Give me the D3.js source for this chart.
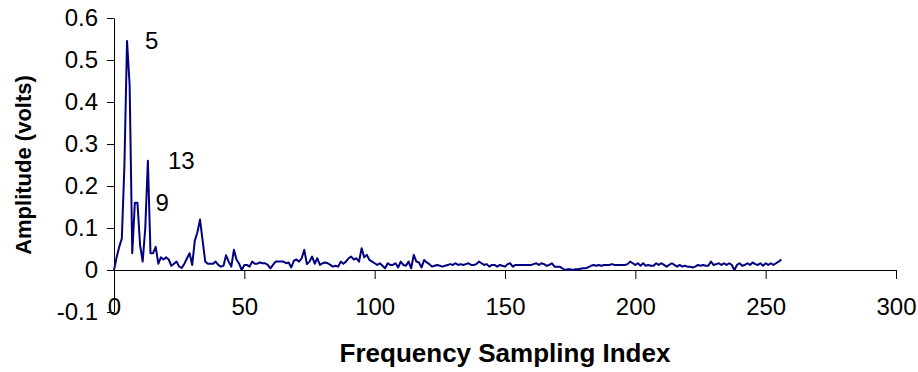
<!DOCTYPE html>
<html>
<head>
<meta charset="utf-8">
<script src="https://cdn.jsdelivr.net/npm/d3@7"></script>
<style>
  body { margin: 0; background: #fff; }
  text { font-family: "Liberation Sans", Arial, sans-serif; fill: #000; }
</style>
</head>
<body>
<div id="chart"></div>
<script>
// amplitude (volts) per frequency sampling index 0..256
const amplitude = [
  0, 0.03, 0.055, 0.075, 0.25, 0.545, 0.44, 0.04, 0.16, 0.16,
  0.06, 0.02, 0.1, 0.26, 0.04, 0.04, 0.055, 0.015, 0.03, 0.025,
  0.03, 0.025, 0.01, 0.015, 0.02, 0.008, 0.005, 0.015, 0.028, 0.04,
  0.012, 0.07, 0.09, 0.12, 0.07, 0.02, 0.015, 0.015, 0.015, 0.02,
  0.012, 0.008, 0.01, 0.035, 0.02, 0.008, 0.048, 0.025, 0.015, 0.0,
  0.012, 0.012, 0.008, 0.02, 0.015, 0.015, 0.018, 0.016, 0.016, 0.012,
  0.004, 0.012, 0.02, 0.02, 0.02, 0.02, 0.016, 0.018, 0.006, 0.022,
  0.025, 0.02, 0.028, 0.048, 0.014, 0.02, 0.032, 0.015, 0.028, 0.012,
  0.016, 0.018, 0.016, 0.012, 0.008, 0.01, 0.008, 0.02, 0.015, 0.02,
  0.028, 0.032, 0.025, 0.028, 0.02, 0.052, 0.03, 0.036, 0.024, 0.02,
  0.016, 0.012, 0.016, 0.01, 0.004, 0.016, 0.012, 0.012, 0.016, 0.006,
  0.02, 0.012, 0.01, 0.02, 0.004, 0.036, 0.02, 0.018, 0.006, 0.024,
  0.018, 0.014, 0.008, 0.01, 0.012, 0.01, 0.008, 0.01, 0.012, 0.014,
  0.012, 0.016, 0.012, 0.014, 0.012, 0.014, 0.016, 0.012, 0.012, 0.014,
  0.02, 0.016, 0.012, 0.014, 0.008, 0.012, 0.012, 0.008, 0.012, 0.01,
  0.008, 0.014, 0.016, 0.008, 0.012, 0.012, 0.012, 0.012, 0.012, 0.012,
  0.012, 0.014, 0.016, 0.012, 0.016, 0.014, 0.01, 0.012, 0.016, 0.008,
  0.008, 0.008, 0.004, 0.0, 0.002, 0.002, 0.0, 0.002, 0.002, 0.003,
  0.004, 0.004, 0.007, 0.01, 0.012, 0.01, 0.012, 0.01, 0.012, 0.012,
  0.012, 0.014, 0.012, 0.012, 0.012, 0.012, 0.012, 0.014, 0.02, 0.016,
  0.012, 0.016, 0.01, 0.016, 0.01, 0.012, 0.01, 0.01, 0.016, 0.012,
  0.016, 0.012, 0.008, 0.012, 0.016, 0.012, 0.008, 0.012, 0.008, 0.01,
  0.008, 0.008, 0.006, 0.008, 0.012, 0.01, 0.012, 0.01, 0.01, 0.02,
  0.012, 0.014, 0.016, 0.012, 0.016, 0.012, 0.016, 0.012, 0.0, 0.012,
  0.016, 0.01, 0.012, 0.016, 0.012, 0.018, 0.014, 0.012, 0.016, 0.01,
  0.016, 0.012, 0.016, 0.012, 0.016, 0.02, 0.025
];

const xTicks = [0, 50, 100, 150, 200, 250, 300];
const yTicks = [-0.1, 0, 0.1, 0.2, 0.3, 0.4, 0.5, 0.6];

// peak annotations: [index, amplitude where the label sits, text]
const peakLabels = [
  [5, 0.545, "5"],
  [13, 0.26, "13"],
  [9, 0.16, "9"]
];

const width = 918, height = 372;

const svg = d3.select("#chart").append("svg")
  .attr("width", width)
  .attr("height", height);

const x = d3.scaleLinear().domain([0, 300]).range([114, 896]);
const y = d3.scaleLinear().domain([-0.1, 0.6]).range([312, 18]);

const fmtY = d => d === 0 ? "0" : d3.format(".1f")(d).replace("\u2212", "-");

// y axis
svg.append("g")
  .attr("transform", `translate(${x(0)},0)`)
  .call(d3.axisLeft(y).tickValues(yTicks).tickSize(7).tickSizeOuter(0).tickPadding(9).tickFormat(fmtY));

// x axis sits on the zero line, labels pushed below -0.1
svg.append("g")
  .attr("transform", `translate(0,${y(0)})`)
  .call(d3.axisBottom(x).tickValues(xTicks).tickSize(9).tickSizeOuter(0).tickPadding(19));

svg.selectAll(".domain, .tick line").attr("stroke", "#000").attr("stroke-width", 1);
svg.selectAll(".tick text")
  .style("font-family", "'Liberation Sans', Arial, sans-serif")
  .style("font-size", "24px")
  .attr("fill", "#000");

// the line
const line = d3.line()
  .x((d, i) => x(i))
  .y(d => y(d));

svg.append("path")
  .datum(amplitude)
  .attr("fill", "none")
  .attr("stroke", "#000080")
  .attr("stroke-width", 2)
  .attr("stroke-linejoin", "round")
  .attr("d", line);

// peak labels
const labelDx = { "5": 18, "13": 20, "9": 18 };
svg.selectAll(".peak")
  .data(peakLabels)
  .join("text")
  .attr("class", "peak")
  .attr("x", d => x(d[0]) + labelDx[d[2]])
  .attr("y", d => y(d[1]) + 8)
  .style("font-size", "24px")
  .text(d => d[2]);

// axis titles
svg.append("text")
  .attr("transform", `translate(31,${(y(0.6) + y(-0.1)) / 2}) rotate(-90)`)
  .attr("text-anchor", "middle")
  .style("font-size", "22px")
  .style("font-weight", "bold")
  .text("Amplitude (volts)");

svg.append("text")
  .attr("x", 505)
  .attr("y", 362)
  .attr("text-anchor", "middle")
  .style("font-size", "26px")
  .style("font-weight", "bold")
  .text("Frequency Sampling Index");
</script>
</body>
</html>
